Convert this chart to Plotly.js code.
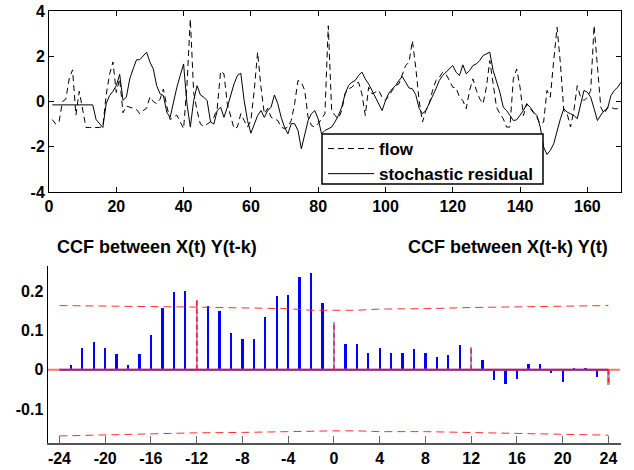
<!DOCTYPE html>
<html>
<head>
<meta charset="utf-8">
<script src="https://cdn.plot.ly/plotly-3.0.1.min.js"></script>
<style>html,body{margin:0;padding:0;background:#fff;}#chart{width:634px;height:470px;}</style>
</head>
<body>
<div id="chart"></div>
<script>
// ---- Top panel: time series (t = 1..170) ----
const flow = [-0.8,-1.0,-0.9,0.0,0.1,1.0,1.4,-0.6,0.45,-0.3,
 -1.15,-1.15,-1.15,-1.15,-1.15,-1.1,0.3,1.2,1.75,0.4,
 1.0,-0.5,-0.2,-0.25,-0.3,-0.35,-0.55,-0.4,-0.3,0.2,
 0.0,-0.1,0.1,0.55,-0.2,-0.8,-0.7,-0.6,-0.9,-1.2,
 0.7,3.65,0.4,-0.4,-1.0,-1.1,-1.0,-0.9,-0.7,-0.3,
 1.34,1.22,-0.1,-0.6,-1.2,-1.13,-0.54,-0.84,-1.13,-0.84,
 0.5,2.18,0.63,-0.54,-0.3,-0.7,-0.76,-0.84,-1.13,-1.2,
 -1.13,-0.84,-0.1,0.93,0.85,0.49,-0.7,-1.06,-1.13,-0.98,
 -0.76,-0.54,3.35,-0.4,-0.62,-0.76,-0.4,0.34,0.56,0.63,
 0.78,0.85,0.34,-0.62,0.63,0.34,0.41,0.49,0.19,0.04,
 0.26,0.5,0.7,0.78,1.15,1.59,1.74,2.69,1.5,0.04,
 -0.91,-0.4,-0.1,0.49,0.93,1.07,1.29,1.2,0.93,0.63,
 0.6,0.19,0.04,-0.32,0.49,1.0,0.5,0.12,-0.1,0.63,
 1.81,0.78,-0.25,-0.54,-0.76,-1.13,-1.13,1.0,1.44,0.63,
 -0.62,-0.1,-0.3,-0.54,-0.7,-0.98,-0.91,0.49,0.19,1.81,
 3.28,1.66,-0.4,-0.54,-1.13,-0.4,0.7,0.19,0.04,0.19,
 0.49,3.35,1.37,-0.25,-0.54,-0.25,-0.25,-0.32,-0.32,-0.4];
const residual = [-0.15,-0.15,-0.15,-0.15,-0.15,-0.15,-0.15,-0.15,-0.15,-0.15,
 -0.15,-0.15,-0.15,-0.8,-1.0,-1.15,-0.1,0.26,0.45,0.7,
 1.2,0.05,0.2,1.0,1.44,1.84,1.85,2.0,2.18,1.74,
 1.44,0.7,0.34,0.26,-0.47,-0.7,0.04,0.63,1.15,1.66,
 -0.1,-1.13,0.04,0.7,0.29,0.19,0.04,-0.9,-1.0,-0.4,
 -0.25,-0.7,-0.25,0.26,0.78,1.15,1.25,0.04,-0.84,-1.4,
 -0.98,-0.62,-0.4,-0.7,-0.4,-0.25,0.29,-0.1,-0.7,-1.13,
 -1.43,-0.98,-0.98,-1.28,-2.09,-1.43,-0.84,-0.54,-0.4,-0.77,
 -1.43,-1.28,-1.2,-1.13,-0.9,-0.62,-0.25,0.34,0.7,0.85,
 0.93,1.15,1.3,1.0,0.78,0.49,0.19,-0.1,-0.4,0.04,
 0.37,0.56,0.7,0.93,1.1,0.85,0.6,0.56,0.3,-0.3,
 -0.54,-0.4,-0.1,0.19,0.56,0.93,1.15,1.3,1.45,1.59,
 1.29,1.15,1.62,1.22,1.37,1.59,1.66,1.81,2.03,2.1,
 2.18,1.37,0.93,0.41,-0.25,-0.4,-0.62,-0.84,-0.81,-0.62,
 -0.4,-0.1,-0.25,-0.47,-0.62,-1.13,-2.01,-2.34,-2.16,-1.87,
 -1.28,-0.76,-0.32,-0.47,-0.54,-0.62,-0.76,-0.1,0.49,0.41,
 0.19,-0.32,-0.84,-0.6,-0.4,-0.32,0.26,0.49,0.63,0.85];
const timeIdx = flow.map((_, i) => i + 1);

// ---- Bottom panel: cross-correlation ----
const lags = [-24,-23,-22,-21,-20,-19,-18,-17,-16,-15,-14,-13,-12,-11,-10,-9,-8,-7,-6,-5,-4,-3,-2,-1,
 0,1,2,3,4,5,6,7,8,9,10,11,12,13,14,15,16,17,18,19,20,21,22,23,24];
const ccf = [0.0,0.012,0.056,0.071,0.056,0.040,0.012,0.040,0.089,0.157,0.198,0.201,0.177,0.163,0.149,0.093,0.078,0.078,0.134,0.188,0.191,0.237,0.246,0.170,
 0.121,0.065,0.065,0.042,0.056,0.042,0.042,0.054,0.042,0.032,0.037,0.062,0.057,0.024,-0.026,-0.037,-0.023,0.016,0.016,-0.009,-0.031,0.004,0.004,-0.018,-0.039];
const seasonalLags = [-12, 0, 12, 24];
const bandLags = [-24,-20,-16,-12,-8,-4,-2,0,2,4,8,12,16,20,24];
const bandUpper = [0.164,0.163,0.162,0.160,0.158,0.156,0.152,0.152,0.152,0.155,0.156,0.159,0.161,0.163,0.164];
const bandLower = [-0.169,-0.166,-0.164,-0.161,-0.160,-0.158,-0.156,-0.156,-0.156,-0.158,-0.158,-0.160,-0.163,-0.164,-0.167];
const zeroSpan = [-25, 25];
const innerSpan = [-24, 24];

const xTop = [0,20,40,60,80,100,120,140,160];
const yTop = [-4,-2,0,2,4];
const xBot = [-24,-20,-16,-12,-8,-4,0,4,8,12,16,20,24];
const yBot = [-0.1,0,0.1,0.2];
const yBotText = ['-0.1','0','0.1','0.2'];

const FAM = 'Liberation Sans, Arial, sans-serif';
const tickFont = {family:FAM, size:16, color:'#000', weight:'bold'};

// seasonal stems as dashed red lines
const stemX = [], stemY = [];
seasonalLags.forEach(k => {
  const i = lags.indexOf(k);
  stemX.push(k, k, null);
  stemY.push(0, ccf[i], null);
});
const barColors = lags.map(k => seasonalLags.includes(k) ? '#9999ff' : '#0000ff');

const traces = [
  {x: timeIdx, y: flow, type:'scatter', mode:'lines', name:'flow',
   line:{color:'#000', width:1, dash:'6px,4px'}, xaxis:'x', yaxis:'y'},
  {x: timeIdx, y: residual, type:'scatter', mode:'lines', name:'stochastic residual',
   line:{color:'#000', width:1}, xaxis:'x', yaxis:'y'},
  {x: zeroSpan, y: [0,0], type:'scatter', mode:'lines', showlegend:false,
   line:{color:'#ff7070', width:2}, xaxis:'x2', yaxis:'y2'},
  {x: lags, y: ccf, type:'bar', width:0.2, showlegend:false,
   marker:{color: barColors, line:{width:0}}, xaxis:'x2', yaxis:'y2'},
  {x: innerSpan, y: [0,0], type:'scatter', mode:'lines', showlegend:false,
   line:{color:'#8a2a8a', width:2}, xaxis:'x2', yaxis:'y2'},
  {x: stemX, y: stemY, type:'scatter', mode:'lines', showlegend:false,
   line:{color:'#ff2020', width:1.5, dash:'5px,3px'}, xaxis:'x2', yaxis:'y2'},
  {x: bandLags, y: bandUpper, type:'scatter', mode:'lines', showlegend:false,
   line:{color:'#ff3030', width:1, dash:'8px,5px'}, xaxis:'x2', yaxis:'y2'},
  {x: bandLags, y: bandLower, type:'scatter', mode:'lines', showlegend:false,
   line:{color:'#ff3030', width:1, dash:'8px,5px'}, xaxis:'x2', yaxis:'y2'}
];

const W = 634, H = 470;
const layout = {
  width: W, height: H,
  margin:{l:0, r:0, t:0, b:0},
  paper_bgcolor:'#fff', plot_bgcolor:'#fff',
  showlegend:true,
  bargap:0,
  xaxis:{domain:[49/W, 621/W], range:[0,170], tickvals:xTop, ticktext:xTop.map(String),
    showline:true, linecolor:'#000', linewidth:1, mirror:'ticks', ticks:'inside', ticklen:5,
    tickcolor:'#000', showgrid:false, zeroline:false, tickfont:tickFont, anchor:'y'},
  yaxis:{domain:[(H-192)/H, (H-11)/H], range:[-4,4], tickvals:yTop, ticktext:yTop.map(String),
    showline:true, linecolor:'#000', linewidth:1, mirror:'ticks', ticks:'inside', ticklen:5,
    tickcolor:'#000', showgrid:false, zeroline:false, tickfont:tickFont, anchor:'x'},
  xaxis2:{domain:[48/W, 621/W], range:[-25,25.1], tickvals:xBot, ticktext:xBot.map(String),
    showline:true, linecolor:'#555', linewidth:1.5, ticks:'inside', ticklen:7, tickcolor:'#666',
    showgrid:false, zeroline:false, tickfont:tickFont, anchor:'y2'},
  yaxis2:{domain:[(H-443)/H, (H-266)/H], range:[-0.187,0.265], tickvals:yBot, ticktext:yBotText,
    showline:true, linecolor:'#000', linewidth:1.5, ticks:'', showgrid:false, zeroline:false,
    tickfont:tickFont, anchor:'x2'},
  legend:{x:323/W, y:1-131/H, xanchor:'left', yanchor:'top', bgcolor:'rgba(0,0,0,0)',
    borderwidth:0, itemwidth:46,
    font:{family:FAM, size:17, color:'#000', weight:'bold'},
    tracegroupgap:0},
  shapes:[
    {type:'rect', xref:'paper', yref:'paper', x0:322/W, x1:543/W, y0:1-184/H, y1:1-134/H,
     line:{color:'#000', width:1.5}, fillcolor:'#fff', layer:'above'}
  ],
  annotations:[
    {text:'CCF between X(t) Y(t-k)', xref:'paper', yref:'paper', x:157/W, y:1-247/H,
     xanchor:'center', yanchor:'middle', showarrow:false,
     font:{family:FAM, size:18, color:'#000', weight:'bold'}},
    {text:'CCF between X(t-k) Y(t)', xref:'paper', yref:'paper', x:508/W, y:1-247/H,
     xanchor:'center', yanchor:'middle', showarrow:false,
     font:{family:FAM, size:18, color:'#000', weight:'bold'}}
  ]
};

Plotly.newPlot('chart', traces, layout, {staticPlot:true, displayModeBar:false});
</script>
</body>
</html>
